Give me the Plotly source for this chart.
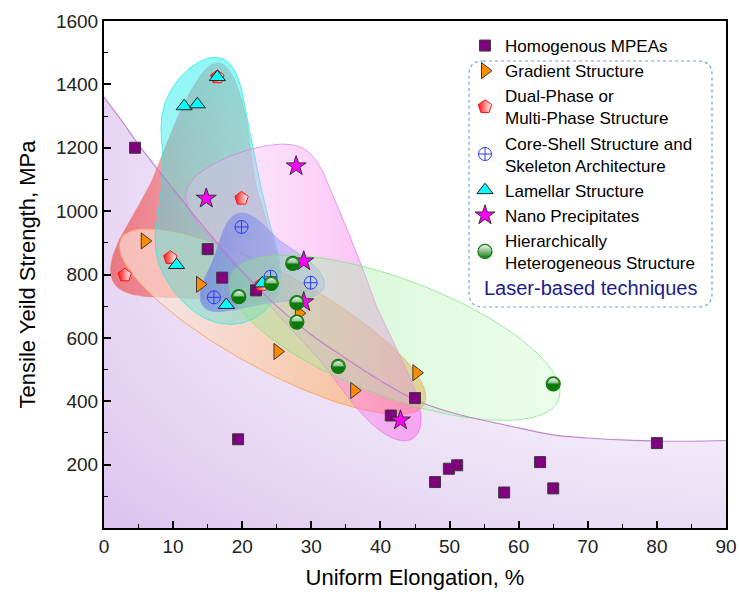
import numpy as np
import plotly.graph_objects as go

# ---------------- data ----------------
homo_x = [4.5, 15.0, 17.1, 22.0, 19.4, 41.5, 45.0, 47.9, 49.9, 51.1, 57.9, 63.1, 65.0, 80.0]
homo_y = [1200, 880, 790, 750, 280, 355, 410, 145, 187, 198, 112, 208, 125, 268]
grad_x = [5.9, 13.9, 25.1, 28.2, 36.2, 45.2]
grad_y = [906, 769, 557, 678, 434, 490]
dual_x = [3.0, 9.6, 16.4, 19.9, 22.8]
dual_y = [798, 853, 1423, 1040, 768]
core_x = [15.9, 19.9, 24.1, 29.9]
core_y = [728, 950, 793, 774]
lam_x = [10.5, 11.6, 13.5, 16.4, 17.7, 22.9]
lam_y = [830, 1331, 1337, 1423, 704, 772]
nano_x = [14.8, 27.8, 28.9, 28.9, 42.9]
nano_y = [1040, 1142, 842, 713, 340]
hier_x = [19.5, 24.2, 27.3, 27.9, 27.9, 33.9, 65.0]
hier_y = [730, 772, 835, 711, 650, 510, 455]
trend_x = [0, 2.5, 5, 10, 15, 20, 25, 30, 35, 40, 45, 50, 55, 60, 65, 70, 75, 80, 85, 90]
trend_y = [1360, 1287, 1210, 1070, 935, 810, 700, 610, 535, 465, 405, 366, 339, 316, 294, 284, 278, 274, 274, 276]

x_ticks = list(range(0, 91, 10))
y_ticks = list(range(200, 1601, 200))

# ---------------- layout geometry ----------------
W, H = 739, 594
ML, MR, MT, MB = 104, 13, 21, 66
PW, PH = W - ML - MR, H - MT - MB
XR, YR = (0, 90), (0, 1600)
SX = PW / (XR[1] - XR[0])
SY = PH / (YR[1] - YR[0])

FONT = "Liberation Sans, Arial, sans-serif"


def convex_hull(P):
    pts = sorted(map(tuple, P))
    def cross(o, a, b):
        return (a[0]-o[0])*(b[1]-o[1]) - (a[1]-o[1])*(b[0]-o[0])
    lower, upper = [], []
    for p in pts:
        while len(lower) >= 2 and cross(lower[-2], lower[-1], p) <= 0:
            lower.pop()
        lower.append(p)
    for p in reversed(pts):
        while len(upper) >= 2 and cross(upper[-2], upper[-1], p) <= 0:
            upper.pop()
        upper.append(p)
    return np.array(lower[:-1] + upper[:-1])


def smooth_closed(P, K=6, N=256, grow=1.0):
    seg = np.hypot(*np.diff(P, axis=0).T)
    s = np.concatenate([[0], np.cumsum(seg)])
    t = np.linspace(0, s[-1], N, endpoint=False)
    x = np.interp(t, s, P[:, 0])
    y = np.interp(t, s, P[:, 1])
    Z = np.fft.fft(x + 1j*y)
    k = np.fft.fftfreq(N, 1.0/N)
    Z[np.abs(k) > K] = 0
    z = np.fft.ifft(Z)
    c = z.mean()
    z = c + (z - c) * grow
    z = np.append(z, z[0])
    return np.column_stack([z.real, z.imag])


def blob(xs, ys, pad, K=6, grow=1.0, n_arc=20):
    P = np.column_stack([np.array(xs) * SX, np.array(ys) * SY])
    Hh = convex_hull(P)
    m = len(Hh)
    out = []
    for i in range(m):
        prev, cur, nxt = Hh[i-1], Hh[i], Hh[(i+1) % m]
        e1, e2 = cur - prev, nxt - cur
        n1 = np.array([e1[1], -e1[0]]) / np.hypot(*e1)
        n2 = np.array([e2[1], -e2[0]]) / np.hypot(*e2)
        a1, a2 = np.arctan2(n1[1], n1[0]), np.arctan2(n2[1], n2[0])
        if a2 < a1:
            a2 += 2*np.pi
        for t in np.linspace(a1, a2, n_arc):
            out.append(cur + pad*np.array([np.cos(t), np.sin(t)]))
    out.append(out[0])
    out = smooth_closed(np.array(out), K=K, grow=grow)
    return out[:, 0] / SX, out[:, 1] / SY


def mvee(P, tol=1e-6):
    N, d = P.shape
    Q = np.vstack([P.T, np.ones(N)])
    u = np.ones(N) / N
    err = 1.0
    it = 0
    while err > tol and it < 5000:
        X = Q @ np.diag(u) @ Q.T
        M = np.einsum('ij,ji->i', Q.T @ np.linalg.inv(X), Q)
        j = np.argmax(M)
        step = (M[j] - d - 1) / ((d + 1) * (M[j] - 1))
        nu = (1 - step) * u
        nu[j] += step
        err = np.linalg.norm(nu - u)
        u = nu
        it += 1
    c = u @ P
    A = np.linalg.inv(P.T @ np.diag(u) @ P - np.outer(c, c)) / d
    return A, c


def ellipse(xs, ys, pad, scale=1.0, n=120):
    P = np.column_stack([np.array(xs) * SX, np.array(ys) * SY])
    A, c = mvee(P)
    w, V = np.linalg.eigh(A)
    ax = 1 / np.sqrt(w) * scale + pad
    t = np.linspace(0, 2*np.pi, n)
    pts = c + (V @ np.vstack([ax[0]*np.cos(t), ax[1]*np.sin(t)])).T
    return pts[:, 0] / SX, pts[:, 1] / SY


def pca_ellipse(xs, ys, pad_u, pad_v, n=120):
    P = np.column_stack([np.array(xs) * SX, np.array(ys) * SY])
    m = P.mean(axis=0)
    w, V = np.linalg.eigh(np.cov((P - m).T))
    u_dir, v_dir = V[:, 1], V[:, 0]
    pu, pv = (P - m) @ u_dir, (P - m) @ v_dir
    cu, cv = (pu.max() + pu.min()) / 2, (pv.max() + pv.min()) / 2
    a = np.abs(pu - cu).max() + pad_u
    b = np.abs(pv - cv).max() + pad_v
    c = m + cu * u_dir + cv * v_dir
    t = np.linspace(0, 2*np.pi, n)
    pts = c + np.outer(a*np.cos(t), u_dir) + np.outer(b*np.sin(t), v_dir)
    return pts[:, 0] / SX, pts[:, 1] / SY


fig = go.Figure()

# background gradient under the trend curve
fig.add_trace(go.Scatter(x=trend_x, y=trend_y, mode='lines', showlegend=False, hoverinfo='skip',
                         line=dict(color='rgba(0,0,0,0)', shape='spline', width=0), fill='tozeroy',
                         fillgradient=dict(type='horizontal',
                                           colorscale=[[0, 'rgba(212,182,236,0.6)'], [1, 'rgba(255,255,255,0)']])))
fig.add_trace(go.Scatter(x=trend_x, y=trend_y, mode='lines', showlegend=False, hoverinfo='skip',
                         line=dict(color='rgba(0,0,0,0)', shape='spline', width=0), fill='tozeroy',
                         fillgradient=dict(type='vertical',
                                           colorscale=[[0, 'rgba(206,176,232,0.45)'], [1, 'rgba(255,255,255,0)']])))

# translucent group regions
blobs = [
    (blob(dual_x, dual_y, 15, K=5, grow=1.04), 'rgba(245,110,110,0.35)', 'horizontal',
     [[0, 'rgba(236,60,60,0.62)'], [1, 'rgba(250,140,140,0.45)']]),
    (pca_ellipse(grad_x, grad_y, 22, 24), 'rgba(255,150,70,0.75)', 'horizontal',
     [[0, 'rgba(255,245,232,0.55)'], [1, 'rgba(255,150,60,0.6)']]),
    (blob(lam_x, lam_y, 18, K=5, grow=1.04), 'rgba(40,235,235,0.8)', 'vertical',
     [[0, 'rgba(60,220,210,0.35)'], [1, 'rgba(40,240,240,0.52)']]),
    (blob(nano_x, nano_y, 20, K=5, grow=1.05), 'rgba(220,120,230,0.7)', 'horizontal',
     [[0, 'rgba(240,200,245,0.3)'], [1, 'rgba(255,100,235,0.5)']]),
    (blob(core_x, core_y, 13, K=5, grow=1.04), 'rgba(140,150,245,0.6)', 'horizontal',
     [[0, 'rgba(80,100,235,0.5)'], [1, 'rgba(150,160,245,0.35)']]),
    (ellipse(hier_x, hier_y, 13, 0.95), 'rgba(120,230,120,0.7)', 'horizontal',
     [[0, 'rgba(140,230,140,0.4)'], [1, 'rgba(200,250,200,0.35)']]),
]
for (bx, by), lc, gt, cs in blobs:
    fig.add_trace(go.Scatter(x=bx, y=by, mode='lines', fill='toself', showlegend=False, hoverinfo='skip',
                             line=dict(color=lc, width=1),
                             fillgradient=dict(type=gt, colorscale=cs)))

# trend curve drawn over the regions
fig.add_trace(go.Scatter(x=trend_x, y=trend_y, mode='lines', showlegend=False, hoverinfo='skip',
                         line=dict(color='rgba(190,120,205,0.9)', shape='spline', width=1.1)))

# markers
fig.add_trace(go.Scatter(x=homo_x, y=homo_y, mode='markers', name='Homogenous MPEAs',
                         marker=dict(symbol='square', size=11, color='#800080',
                                     line=dict(color='#3a3a3a', width=1))))
fig.add_trace(go.Scatter(x=grad_x, y=grad_y, mode='markers', name='Gradient Structure',
                         marker=dict(symbol='triangle-right', size=14, color='#ff8c00',
                                     line=dict(color='#3a3a3a', width=1))))
fig.add_trace(go.Scatter(x=dual_x, y=dual_y, mode='markers', name='Dual-Phase or<br>Multi-Phase Structure',
                         marker=dict(symbol='pentagon', size=14, color='#ff1010',
                                     gradient=dict(type='horizontal', color='white'),
                                     line=dict(color='#ff1010', width=1))))
fig.add_trace(go.Scatter(x=core_x, y=core_y, mode='markers', name='Core-Shell Structure and<br>Skeleton Architecture',
                         marker=dict(symbol='circle-cross-open', size=13, color='#2a3cff',
                                     line=dict(color='#2a3cff', width=1))))
fig.add_trace(go.Scatter(x=lam_x, y=lam_y, mode='markers', name='Lamellar Structure',
                         marker=dict(symbol='triangle-up', size=14, color='#00ffff',
                                     line=dict(color='#222222', width=1))))
fig.add_trace(go.Scatter(x=nano_x, y=nano_y, mode='markers', name='Nano Precipitates',
                         marker=dict(symbol='star', size=15, color='#ff00ff',
                                     line=dict(color='#333333', width=1))))
fig.add_trace(go.Scatter(x=hier_x, y=hier_y, mode='markers', name='Hierarchically<br>Heterogeneous Structure',
                         marker=dict(symbol='circle', size=14, color='white',
                                     gradient=dict(type='vertical', color='#0a7a0a'),
                                     line=dict(color='#0a7a0a', width=1.2))))
fig.add_trace(go.Scatter(x=hier_x, y=hier_y, mode='text', text=['\u25d2'] * len(hier_x), showlegend=False,
                         hoverinfo='skip', textposition='middle center',
                         textfont=dict(family='DejaVu Sans', size=17, color='#0a7a0a')))

# dashed rounded box around the laser-based entries
bx0, bx1 = (469 - ML) / PW, (712 - ML) / PW
by1, by0 = (H - MB - 61) / PH, (H - MB - 307) / PH
rx, ry = 14 / PW, 14 / PH
path = (f"M {bx0+rx},{by1} L {bx1-rx},{by1} Q {bx1},{by1} {bx1},{by1-ry} "
        f"L {bx1},{by0+ry} Q {bx1},{by0} {bx1-rx},{by0} L {bx0+rx},{by0} "
        f"Q {bx0},{by0} {bx0},{by0+ry} L {bx0},{by1-ry} Q {bx0},{by1} {bx0+rx},{by1} Z")
fig.add_shape(type='path', path=path, xref='paper', yref='paper',
              line=dict(color='#6aa6ea', width=1.2, dash='dot'))

fig.add_annotation(x=(590 - ML) / PW, y=(H - MB - 288) / PH, xref='paper', yref='paper',
                   xanchor='center', yanchor='middle',
                   text='Laser-based techniques', showarrow=False,
                   font=dict(family=FONT, size=20, color='#1c1c8a'))

axis_common = dict(showline=True, linecolor='black', linewidth=2, mirror=True, ticks='inside',
                   ticklen=7, tickwidth=1.5, tickcolor='black', showgrid=False, zeroline=False,
                   automargin=False,
                   tickfont=dict(family=FONT, size=19, color='#222222'))

fig.update_layout(
    width=W, height=H,
    margin=dict(l=ML, r=MR, t=MT, b=MB, autoexpand=False),
    paper_bgcolor='white', plot_bgcolor='white',
    font=dict(family=FONT, color='black'),
    xaxis=dict(range=list(XR), tickvals=x_ticks, ticktext=[str(v) for v in x_ticks],
               minor=dict(dtick=5, ticks='inside', ticklen=4, tickwidth=1.2, tickcolor='black'),
               title=dict(text='Uniform Elongation, %', font=dict(family=FONT, size=22), standoff=14),
               **axis_common),
    yaxis=dict(range=list(YR), tickvals=y_ticks, ticktext=[str(v) for v in y_ticks],
               minor=dict(dtick=100, ticks='inside', ticklen=4, tickwidth=1.2, tickcolor='black'),
               title=dict(text='Tensile Yeild Strength, MPa', font=dict(family=FONT, size=22), standoff=14),
               **axis_common),
    legend=dict(x=(465 - ML) / PW, y=(H - MB - 28) / PH, xanchor='left', yanchor='top',
                bgcolor='rgba(0,0,0,0)', font=dict(family=FONT, size=17, color='black'),
                tracegroupgap=0),
    showlegend=True,
)

fig.write_html("out.html")
